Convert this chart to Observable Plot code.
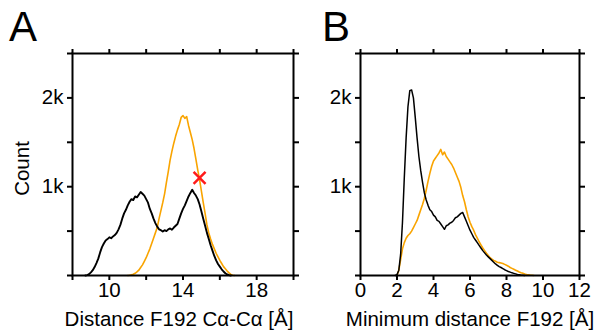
<!DOCTYPE html>
<html><head><meta charset="utf-8">
<script src="https://cdn.jsdelivr.net/npm/d3@7"></script>
<script src="https://cdn.jsdelivr.net/npm/@observablehq/plot@0.6"></script>
<style>
body{margin:0;background:#fff;font-family:"Liberation Sans",Arial,sans-serif}
#wrap{position:relative;width:603px;height:331px;overflow:hidden;background:#fff}
.panel{position:absolute;top:0}
.lab{position:absolute;font-size:42px;line-height:42px;color:#000}
</style></head><body><div id="wrap">
<div class="lab" style="left:9px;top:6px">A</div>
<div class="lab" style="left:322px;top:6px">B</div>
<div id="pa" class="panel" style="left:0"></div>
<div id="pb" class="panel" style="left:300px"></div>
</div>
<script>
// Panel A: histogram bins start + step
const aStep = 0.1;
const aBlackStart = 8.7;
const aBlack = [0,5,15,35,60,95,140,190,260,320,360,395,410,430,420,440,455,480,520,570,640,700,740,790,830,860,850,890,880,910,940,920,900,860,820,750,700,640,590,550,520,510,495,510,500,520,530,515,540,560,580,640,700,750,790,840,890,930,965,930,900,860,800,720,640,560,480,410,340,280,220,170,130,100,70,45,25,12,5,0];
const aOrangeStart = 11.0;
const aOrange = [0,3,8,15,25,40,60,90,120,160,200,250,300,360,420,480,540,640,730,820,920,1050,1170,1300,1400,1490,1570,1640,1700,1780,1800,1770,1790,1690,1610,1530,1430,1310,1190,1080,950,820,700,570,480,410,350,300,250,210,170,135,100,75,50,30,12,3,0];
const aMarker = [{x:14.9, y:1100}];
const aXTicks = [8,10,12,14,16,18,20];
const aXLabels = [10,14,18];
const aXDomain = [8,20];

// Panel B
const bStep = 0.1;
const bBlackStart = 1.9;
const bBlack = [0,10,60,240,600,1100,1550,1900,2080,2090,2000,1780,1550,1340,1180,1050,930,850,790,740,720,680,660,620,610,580,550,520,560,570,590,600,620,650,660,680,700,710,660,610,560,510,470,430,400,370,340,310,280,255,230,210,190,170,150,130,115,100,90,78,65,55,45,38,30,24,18,12,8,4,2,0];
const bOrangeStart = 2.0;
const bOrange = [0,60,180,300,370,420,450,470,500,540,580,620,680,740,800,870,960,1060,1150,1230,1290,1320,1350,1380,1420,1360,1390,1340,1310,1280,1250,1210,1160,1110,1060,990,900,830,740,660,600,550,510,460,420,380,345,310,280,250,225,200,185,170,160,150,145,140,135,125,115,105,90,80,70,60,50,40,32,25,18,12,8,4,2,0];
const bXTicks = [0,2,4,6,8,10,12];
const bXLabels = [0,2,4,6,8,10,12];
const bXDomain = [0,12];

const yTicks = [0,500,1000,1500,2000,2500];
const yLabels = {1000:"1k", 2000:"2k"};
const yDomain = [0,2500];

const FS = 20.5;

function toPts(start, step, vals){ return vals.map((v,i)=>({x: +(start + i*step).toFixed(3), y: v})); }

function panel({width, ml, mr, xDomain, xTicks, xLabels, black, orange, marker, xlabel, ylabel, xlabelDx, blackWidth}){
  const marks = [
    Plot.line(orange, {x:"x", y:"y", stroke:"#f9a400", strokeWidth:1.6}),
    Plot.line(black, {x:"x", y:"y", stroke:"#000", strokeWidth:blackWidth}),
    Plot.frame({stroke:"#000", strokeWidth:2}),
    Plot.axisX({anchor:"bottom", ticks:xTicks, tickSize:5, tickPadding:2, strokeWidth:2, label:null, fontSize:FS,
      tickFormat: d => xLabels.includes(d) ? String(d) : ""}),
    Plot.axisX({anchor:"top", ticks:xTicks, tickSize:5, strokeWidth:2, label:null, tickFormat: () => ""}),
    Plot.axisY({anchor:"left", ticks:yTicks, tickSize:5, tickPadding:4, strokeWidth:2, label:null, fontSize:FS,
      tickFormat: d => yLabels[d] || ""}),
    Plot.axisY({anchor:"right", ticks:yTicks, tickSize:5, strokeWidth:2, label:null, tickFormat: () => ""}),
    Plot.text([xlabel], {frameAnchor:"bottom", text: d => d, dy:50, dx:xlabelDx, fontSize:FS, textAnchor:"middle", lineAnchor:"bottom"})
  ];
  if (ylabel) marks.push(Plot.text([ylabel], {frameAnchor:"left", text: d => d, rotate:-90, dx:-50, dy:4, fontSize:FS, textAnchor:"middle", lineAnchor:"middle"}));
  if (marker) marks.push(Plot.dot(marker, {x:"x", y:"y", symbol:"times", r:5.5, stroke:"#ff1a1a", strokeWidth:2.5}));
  return Plot.plot({
    width, height:331,
    marginLeft:ml, marginRight:mr, marginTop:53, marginBottom:56,
    x:{domain:xDomain},
    y:{domain:yDomain},
    style:{fontSize:FS+"px", fontFamily:"'Liberation Sans', Arial, sans-serif", background:"transparent", color:"#000", overflow:"visible"},
    marks
  });
}

document.getElementById("pa").appendChild(panel({
  width:300, ml:72, mr:7, xDomain:aXDomain, xTicks:aXTicks, xLabels:aXLabels,
  black: toPts(aBlackStart, aStep, aBlack), orange: toPts(aOrangeStart, aStep, aOrange),
  marker:aMarker, xlabel:"Distance F192 Cα-Cα [Å]", ylabel:"Count", xlabelDx:-4, blackWidth:1.9
}));
document.getElementById("pb").appendChild(panel({
  width:303, ml:60, mr:24, xDomain:bXDomain, xTicks:bXTicks, xLabels:bXLabels,
  black: toPts(bBlackStart, bStep, bBlack), orange: toPts(bOrangeStart, bStep, bOrange),
  marker:null, xlabel:"Minimum distance F192 [Å]", ylabel:null, xlabelDx:0, blackWidth:1.5
}));
</script>
</body></html>
